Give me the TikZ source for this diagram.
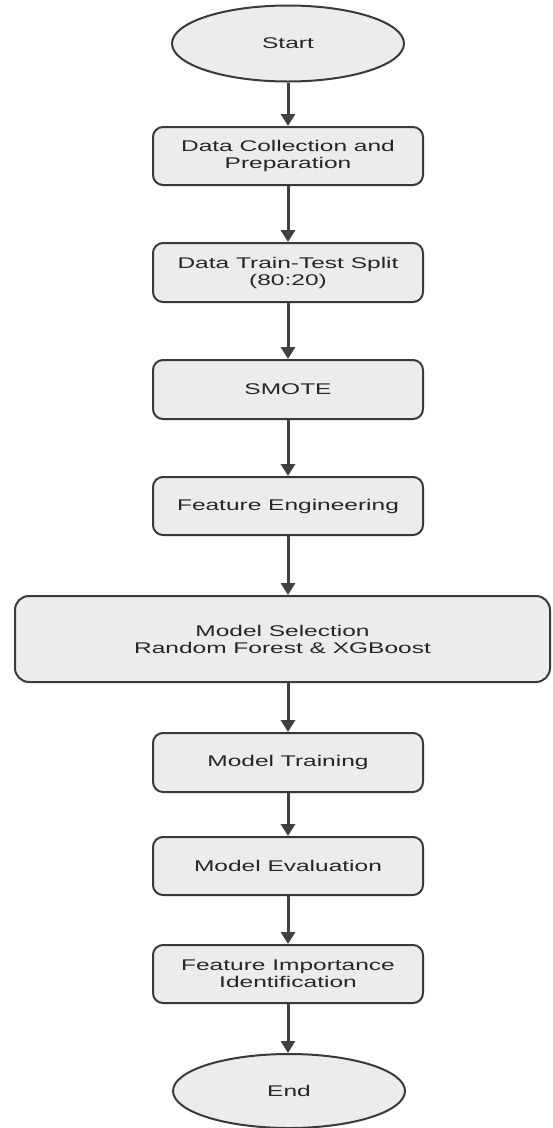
\documentclass[tikz,border=0pt]{standalone}
\usepackage{fontspec}
\setmainfont[FakeStretch=1.58]{Liberation Sans}
\usetikzlibrary{shapes.geometric,arrows.meta}
\definecolor{boxfill}{HTML}{ECECEC}
\definecolor{boxline}{HTML}{3A3A3A}
\definecolor{arrowcol}{HTML}{404040}
\tikzset{
  stepbox/.style={draw=boxline, fill=boxfill, line width=2pt, rounded corners=10pt,
    minimum width=270pt, minimum height=58pt, inner sep=0pt, align=center,
    font=\fontsize{15.5}{17}\selectfont, text=black!85},
  term/.style={draw=boxline, fill=boxfill, line width=2pt, ellipse,
    minimum width=232pt, minimum height=76pt, inner sep=0pt, align=center,
    font=\fontsize{15.5}{17}\selectfont, text=black!85},
  flow/.style={draw=arrowcol, line width=3pt, -{Triangle[width=14pt,length=12pt]}}
}
\begin{document}
\begin{tikzpicture}[x=1pt,y=-1pt]
\useasboundingbox (0,0) rectangle (552,1128);
\node[term] (start) at (288,43.5) {Start};
\node[stepbox] (b1) at (288,156) {Data Collection and\\Preparation};
\node[stepbox, minimum height=59pt] (b2) at (288,272.5) {Data Train-Test Split\\(80:20)};
\node[stepbox, minimum height=59pt] (b3) at (288,389.5) {SMOTE};
\node[stepbox] (b4) at (288,506) {Feature Engineering};
\node[stepbox, minimum width=535pt, minimum height=86pt, rounded corners=14pt] (b5) at (282.5,639) {Model Selection\\Random Forest \& XGBoost};
\node[stepbox, minimum height=59pt] (b6) at (288,762.5) {Model Training};
\node[stepbox] (b7) at (288,866) {Model Evaluation};
\node[stepbox] (b8) at (288,974) {Feature Importance\\Identification};
\node[term, minimum height=74pt] (end) at (289,1091) {End};
\draw[flow] (start.south) -- (b1.north);
\draw[flow] (b1.south) -- (b2.north);
\draw[flow] (b2.south) -- (b3.north);
\draw[flow] (b3.south) -- (b4.north);
\draw[flow] (b4.south) -- (b4.south |- b5.north);
\draw[flow] (b4.south |- b5.south) -- (b6.north);
\draw[flow] (b6.south) -- (b7.north);
\draw[flow] (b7.south) -- (b8.north);
\draw[flow] (b8.south) -- (b8.south |- end.north);
\end{tikzpicture}
\end{document}
